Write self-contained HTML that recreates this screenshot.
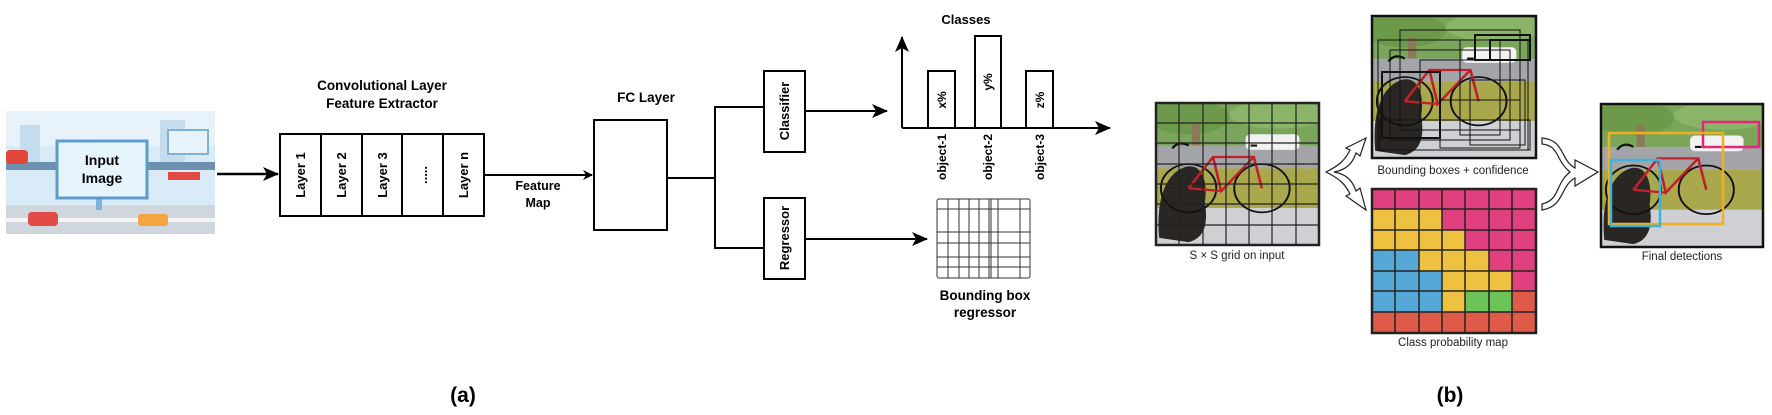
<!DOCTYPE html>
<html><head><meta charset="utf-8"><style>
html,body{margin:0;padding:0;background:#fff;}
svg{display:block;}
text{font-family:"Liberation Sans",Arial,sans-serif;}
</style></head><body>
<svg width="1772" height="415" viewBox="0 0 1772 415" xmlns="http://www.w3.org/2000/svg">
<defs>
<marker id="ah" markerWidth="10" markerHeight="10" refX="9" refY="5" orient="auto" markerUnits="userSpaceOnUse"><path d="M0,0 L10,5 L0,10 L3,5 z" fill="#000"/></marker>
<marker id="ah2" markerWidth="16" markerHeight="14" refX="15" refY="7" orient="auto" markerUnits="userSpaceOnUse"><path d="M0,0 L16,7 L0,14 L4,7 z" fill="#000"/></marker>
<g id="photo">
<rect x="0" y="0" width="100" height="100" fill="#c9cacd"/>
<rect x="0" y="0" width="100" height="32" fill="#7aa55a"/>
<ellipse cx="20" cy="10" rx="25" ry="12" fill="#6d9a4a"/>
<ellipse cx="75" cy="8" rx="30" ry="10" fill="#8ab468"/>
<rect x="22" y="15" width="5" height="20" fill="#8a7a5a"/>
<rect x="0" y="30" width="100" height="16" fill="#a4a5a8"/>
<rect x="55" y="22" width="33" height="11" rx="3" fill="#f2f2f2"/>
<rect x="0" y="46" width="100" height="28" fill="#a9a84c"/>
<rect x="0" y="74" width="100" height="26" fill="#cfd0d4"/>
<path d="M2,95 C0,70 5,50 18,45 C28,42 32,55 30,70 C32,85 30,95 20,98 Z" fill="#2a2624"/>
<circle cx="20" cy="60" r="17" fill="none" stroke="#111" stroke-width="1.2"/>
<circle cx="65" cy="60" r="17" fill="none" stroke="#111" stroke-width="1.2"/>
<path d="M20,60 L35,38 L60,38 L65,60 M35,38 L40,62 L60,38 M40,62 L20,60" fill="none" stroke="#c0202a" stroke-width="1.6"/>
<path d="M10,32 Q14,26 20,30 M58,30 L62,30" stroke="#111" stroke-width="1.5" fill="none"/>
</g>
</defs>

<!-- Input image -->
<rect x="6" y="111" width="209" height="123" fill="#d9ebf7"/>
<rect x="6" y="111" width="209" height="35" fill="#e8f2fa"/>
<rect x="20" y="125" width="20" height="40" fill="#c5dcee"/>
<rect x="160" y="120" width="25" height="45" fill="#c5dcee"/>
<rect x="6" y="162" width="209" height="8" fill="#6d8fb0"/>
<rect x="6" y="205" width="209" height="29" fill="#cfd6dd"/>
<rect x="6" y="218" width="209" height="4" fill="#f4f4f4"/>
<rect x="6" y="150" width="22" height="14" rx="4" fill="#e2463a"/>
<rect x="168" y="130" width="40" height="24" fill="#e6f3fb" stroke="#7fb2d6" stroke-width="2"/>
<rect x="168" y="172" width="32" height="8" fill="#e04b45"/>
<rect x="28" y="212" width="30" height="14" rx="4" fill="#e04b45"/>
<rect x="138" y="214" width="30" height="12" rx="3" fill="#f2a540"/>
<rect x="96" y="198" width="6" height="12" fill="#7fb2d6"/>
<rect x="57" y="141" width="90" height="57" fill="#e6f4fc" stroke="#5d9ccb" stroke-width="3"/>
<text x="102" y="165" font-size="14" font-weight="bold" text-anchor="middle">Input</text>
<text x="102" y="183" font-size="14" font-weight="bold" text-anchor="middle">Image</text>

<line x1="217" y1="174" x2="278" y2="174" stroke="#000" stroke-width="2.5" marker-end="url(#ah2)"/>

<!-- Conv layers -->
<text x="382" y="90" font-size="13.5" font-weight="bold" text-anchor="middle">Convolutional Layer</text>
<text x="382" y="108" font-size="13.5" font-weight="bold" text-anchor="middle">Feature Extractor</text>
<rect x="280" y="134" width="204" height="82" fill="#fff" stroke="#000" stroke-width="2"/>
<line x1="321" y1="134" x2="321" y2="216" stroke="#000" stroke-width="2"/>
<line x1="362" y1="134" x2="362" y2="216" stroke="#000" stroke-width="2"/>
<line x1="402" y1="134" x2="402" y2="216" stroke="#000" stroke-width="2"/>
<line x1="443" y1="134" x2="443" y2="216" stroke="#000" stroke-width="2"/>
<g font-size="13" font-weight="bold" text-anchor="middle">
<text transform="translate(305,175) rotate(-90)">Layer 1</text>
<text transform="translate(346,175) rotate(-90)">Layer 2</text>
<text transform="translate(387,175) rotate(-90)">Layer 3</text>
<text transform="translate(427,175) rotate(-90)">.....</text>
<text transform="translate(468,175) rotate(-90)">Layer n</text>
</g>
<line x1="484" y1="175" x2="592" y2="175" stroke="#000" stroke-width="2" marker-end="url(#ah)"/>
<text x="538" y="190" font-size="12.5" font-weight="bold" text-anchor="middle">Feature</text>
<text x="538" y="207" font-size="12.5" font-weight="bold" text-anchor="middle">Map</text>

<!-- FC -->
<text x="646" y="102" font-size="13.5" font-weight="bold" text-anchor="middle">FC Layer</text>
<rect x="594" y="120" width="73" height="110" fill="#fff" stroke="#000" stroke-width="2"/>
<polyline points="667,178 715,178" fill="none" stroke="#000" stroke-width="2"/>
<polyline points="764,107 715,107 715,248 764,248" fill="none" stroke="#000" stroke-width="2"/>
<rect x="764" y="71" width="41" height="81" fill="#fff" stroke="#000" stroke-width="2"/>
<rect x="764" y="198" width="41" height="81" fill="#fff" stroke="#000" stroke-width="2"/>
<text transform="translate(789,111) rotate(-90)" font-size="13" font-weight="bold" text-anchor="middle">Classifier</text>
<text transform="translate(789,238) rotate(-90)" font-size="13" font-weight="bold" text-anchor="middle">Regressor</text>
<line x1="805" y1="111" x2="887" y2="111" stroke="#000" stroke-width="2" marker-end="url(#ah2)"/>
<line x1="805" y1="239" x2="927" y2="239" stroke="#000" stroke-width="2" marker-end="url(#ah2)"/>

<!-- Chart -->
<text x="966" y="24" font-size="13" font-weight="bold" text-anchor="middle">Classes</text>
<line x1="902" y1="128" x2="902" y2="37" stroke="#000" stroke-width="2" marker-end="url(#ah2)"/>
<line x1="902" y1="128" x2="1110" y2="128" stroke="#000" stroke-width="2" marker-end="url(#ah2)"/>
<rect x="928" y="71" width="27" height="57" fill="#fff" stroke="#000" stroke-width="2"/>
<rect x="975" y="36" width="26" height="92" fill="#fff" stroke="#000" stroke-width="2"/>
<rect x="1026" y="71" width="27" height="57" fill="#fff" stroke="#000" stroke-width="2"/>
<g font-size="12" font-weight="bold" text-anchor="middle">
<text transform="translate(946,100) rotate(-90)">x%</text>
<text transform="translate(992,82) rotate(-90)">y%</text>
<text transform="translate(1044,100) rotate(-90)">z%</text>
<text transform="translate(946,157) rotate(-90)">object-1</text>
<text transform="translate(992,157) rotate(-90)">object-2</text>
<text transform="translate(1044,157) rotate(-90)">object-3</text>
</g>

<!-- Regressor grid -->
<g stroke="#333" stroke-width="1" fill="none">
<rect x="937" y="199" width="93" height="79" rx="2"/>
<line x1="948" y1="199" x2="948" y2="278"/><line x1="959" y1="199" x2="959" y2="278"/>
<line x1="969" y1="199" x2="969" y2="278"/><line x1="979" y1="199" x2="979" y2="278"/>
<line x1="989" y1="199" x2="989" y2="278"/><line x1="991" y1="199" x2="991" y2="278"/>
<line x1="998" y1="199" x2="998" y2="278"/><line x1="1020" y1="199" x2="1020" y2="278"/>
<line x1="937" y1="209" x2="1030" y2="209"/><line x1="937" y1="232" x2="1030" y2="232"/>
<line x1="937" y1="243" x2="1030" y2="243"/><line x1="937" y1="257" x2="1030" y2="257"/>
<line x1="937" y1="267" x2="1030" y2="267"/>
</g>
<text x="985" y="300" font-size="13.5" font-weight="bold" text-anchor="middle">Bounding box</text>
<text x="985" y="317" font-size="13.5" font-weight="bold" text-anchor="middle">regressor</text>

<text x="463" y="402" font-size="21" font-weight="bold" text-anchor="middle">(a)</text>
<text x="1450" y="402" font-size="21" font-weight="bold" text-anchor="middle">(b)</text>

<!-- S x S grid -->
<svg x="1156" y="103" width="163" height="142" viewBox="0 0 100 100" preserveAspectRatio="none"><use href="#photo"/></svg>
<g stroke="#222" stroke-width="1.2" fill="none">
<rect x="1156" y="103" width="163" height="142" stroke-width="2.5"/>
<path d="M1179,103V245M1203,103V245M1226,103V245M1249,103V245M1272,103V245M1296,103V245M1156,123H1319M1156,143H1319M1156,164H1319M1156,184H1319M1156,204H1319M1156,225H1319"/>
</g>
<text x="1237" y="259" font-size="11.5" text-anchor="middle" fill="#222">S × S grid on input</text>

<!-- Bounding boxes -->
<svg x="1372" y="16" width="164" height="142" viewBox="0 0 100 100" preserveAspectRatio="none"><use href="#photo"/></svg>
<g stroke="#111" fill="none" stroke-width="1">
<rect x="1372" y="16" width="164" height="142" stroke-width="2.5"/>
<rect x="1378" y="40" width="150" height="110"/><rect x="1382" y="72" width="58" height="66" stroke-width="2"/>
<rect x="1475" y="35" width="55" height="25" stroke-width="2"/><rect x="1460" y="40" width="40" height="95"/>
<rect x="1420" y="60" width="100" height="60"/><rect x="1390" y="50" width="120" height="90"/>
<rect x="1470" y="80" width="55" height="65"/><rect x="1380" y="120" width="150" height="30"/>
<rect x="1400" y="30" width="120" height="100"/><rect x="1440" y="100" width="80" height="48"/>
<rect x="1490" y="40" width="40" height="20" stroke-width="2"/>
</g>
<text x="1453" y="174" font-size="11.5" text-anchor="middle" fill="#222">Bounding boxes + confidence</text>

<!-- Class probability map -->
<g stroke="none">
<rect x="1372" y="189" width="164" height="144" fill="#e0407d"/>
<rect x="1372" y="209" width="70" height="41" fill="#eec140"/>
<rect x="1442" y="230" width="23" height="20" fill="#eec140"/>
<rect x="1419" y="250" width="70" height="21" fill="#eec140"/>
<rect x="1442" y="271" width="70" height="20" fill="#eec140"/>
<rect x="1442" y="291" width="23" height="21" fill="#eec140"/>
<rect x="1372" y="250" width="47" height="21" fill="#55a8d6"/>
<rect x="1372" y="271" width="70" height="41" fill="#55a8d6"/>
<rect x="1465" y="291" width="47" height="21" fill="#6cc35a"/>
<rect x="1512" y="291" width="24" height="21" fill="#e05a4a"/>
<rect x="1372" y="312" width="164" height="21" fill="#e05a4a"/>
</g>
<g stroke="#222" stroke-width="1.5" fill="none">
<rect x="1372" y="189" width="164" height="144" stroke-width="2.5"/>
<path d="M1395,189V333M1419,189V333M1442,189V333M1465,189V333M1489,189V333M1512,189V333M1372,209H1536M1372,230H1536M1372,250H1536M1372,271H1536M1372,291H1536M1372,312H1536"/>
</g>
<text x="1453" y="346" font-size="11.5" text-anchor="middle" fill="#222">Class probability map</text>

<!-- Final detections -->
<svg x="1601" y="104" width="162" height="143" viewBox="0 0 100 100" preserveAspectRatio="none"><use href="#photo"/></svg>
<rect x="1601" y="104" width="162" height="143" fill="none" stroke="#111" stroke-width="2.5"/>
<rect x="1703" y="122" width="56" height="25" fill="none" stroke="#e0287a" stroke-width="2.5"/>
<rect x="1609" y="133" width="114" height="91" fill="none" stroke="#f0b020" stroke-width="2.5"/>
<rect x="1611" y="160" width="49" height="66" fill="none" stroke="#40b0e0" stroke-width="2.5"/>
<text x="1682" y="260" font-size="11.5" text-anchor="middle" fill="#222">Final detections</text>

<!-- curly arrows -->
<g fill="#fff" stroke="#222" stroke-width="1.2">
<path d="M1326,172 C1340,165 1345,160 1350,150 L1346,148 L1366,138 L1360,156 L1356,153 C1352,165 1345,170 1334,172 C1345,174 1352,179 1356,191 L1360,188 L1366,210 L1346,196 L1350,194 C1345,184 1340,179 1326,172 Z"/>
<path d="M1542,138 C1565,140 1560,160 1575,168 L1575,160 L1598,172 L1575,186 L1575,178 C1560,186 1565,206 1542,210 L1542,204 C1560,200 1555,184 1570,172 C1555,160 1560,146 1542,144 Z"/>
</g>
</svg>
</body></html>
